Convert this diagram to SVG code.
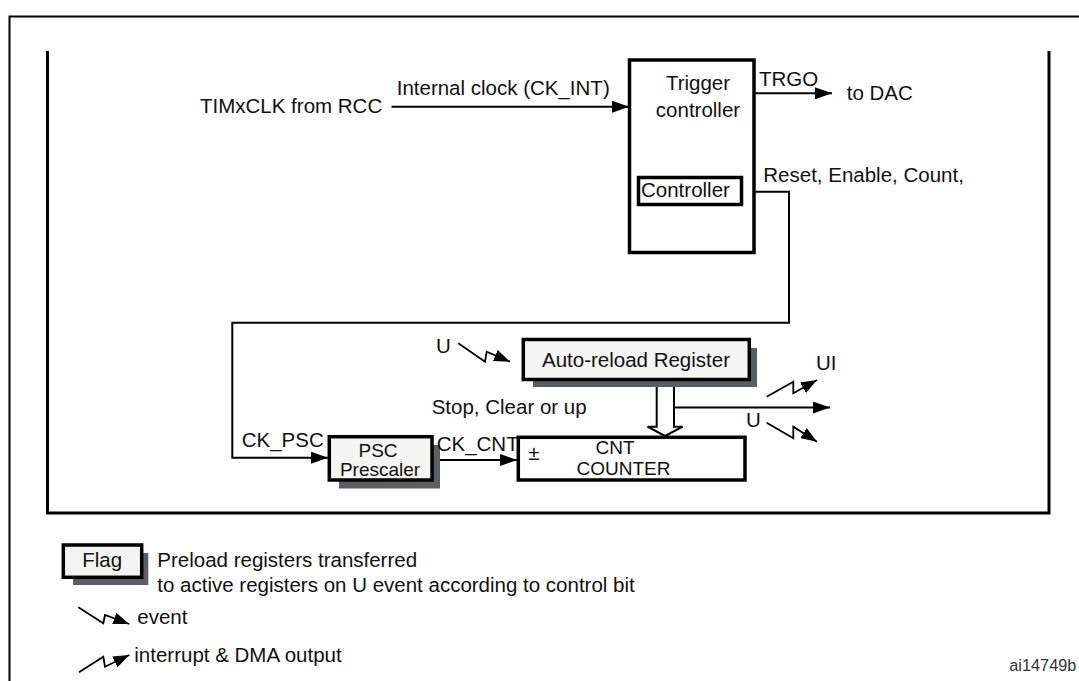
<svg xmlns="http://www.w3.org/2000/svg" width="1079" height="681" viewBox="0 0 1079 681">
<style>
text{font-family:"Liberation Sans",Arial,sans-serif;font-size:20.5px;fill:#111}
.frame{fill:none;stroke:#000;stroke-width:2}
.iframe{fill:none;stroke:#000;stroke-width:3}
.box{fill:#fff;stroke:#000;stroke-width:3.5}
.reg{fill:#f4f4f2;stroke:#000;stroke-width:3.5}
.shadow{fill:#5a5f63}
.wire{fill:none;stroke:#000;stroke-width:2}
.bolt{fill:none;stroke:#000;stroke-width:1.8}
.mid{text-anchor:middle}
.tight{font-size:19px}
</style>
<defs>
<marker id="arr" markerUnits="userSpaceOnUse" markerWidth="17" markerHeight="12" refX="17" refY="6" orient="auto">
<path d="M0,0 L17,6 L0,12 z" fill="#000"/>
</marker>
<marker id="barr" markerUnits="userSpaceOnUse" markerWidth="16" markerHeight="12" refX="16" refY="6" orient="auto">
<path d="M0,0 L16,6 L0,12 z" fill="#000"/>
</marker>
</defs>
<rect width="1079" height="681" fill="#fff"/>
<g id="frames">
<path class="frame" d="M9.5,700 V16.5 H1090"/>
<path class="iframe" d="M47.5,51 V513 H1049 V51"/>
</g>
<g id="connectors">
<path class="wire" d="M391.5,106.7 H629" marker-end="url(#arr)"/>
<path class="wire" d="M754,93.3 H832" marker-end="url(#arr)"/>
<path class="wire" d="M741,191.7 H789 V322.7 H232.3 V457.7 H328" marker-end="url(#arr)"/>
<path class="wire" d="M432,460 H517" marker-end="url(#arr)"/>
<path class="wire" d="M674,407.5 H830" marker-end="url(#arr)"/>
<path d="M656.7,380 V426.7 H647.5 L665,436 L682.7,426.7 H674 V380" fill="#fff" stroke="#000" stroke-width="2"/>
<path class="bolt" d="M766.7,396.7 L793.3,381.7 L793.3,393.3 L817,380" marker-end="url(#barr)"/>
<path class="bolt" d="M766.7,422.7 L793.3,438.3 L793.3,426.7 L817,441.7" marker-end="url(#barr)"/>
<path class="bolt" d="M458.3,343.3 L485,361.7 L486.7,351.7 L510,361.7" marker-end="url(#barr)"/>
</g>
<g id="trigger">
<rect class="box" x="629.5" y="60" width="124.5" height="192.5"/>
<text x="698" y="90" class="mid">Trigger</text>
<text x="698" y="117" class="mid">controller</text>
</g>
<g id="controller">
<rect class="box" x="638.5" y="177.5" width="103" height="27"/>
<text x="641" y="196.5">Controller</text>
</g>
<g id="autoreload">
<rect class="shadow" x="533" y="348" width="224" height="39"/>
<rect class="reg" x="523.3" y="339.5" width="226" height="40"/>
<text x="636" y="366.7" class="mid">Auto-reload Register</text>
</g>
<g id="psc">
<rect class="shadow" x="339" y="445" width="101" height="43.5"/>
<rect class="reg" x="329.3" y="436.7" width="102.7" height="43.3"/>
<text x="378" y="456.5" class="mid tight">PSC</text>
<text x="380" y="476" class="mid tight">Prescaler</text>
</g>
<g id="cnt">
<rect class="box" x="518.3" y="437.3" width="226.7" height="42.7"/>
<text x="528.3" y="460">±</text>
<text x="615" y="454" class="mid tight">CNT</text>
<text x="623.5" y="474.5" class="mid tight">COUNTER</text>
</g>
<g id="labels">
<text x="200" y="113.3">TIMxCLK from RCC</text>
<text x="396.7" y="95">Internal clock (CK_INT)</text>
<text x="759" y="86">TRGO</text>
<text x="846.7" y="100">to DAC</text>
<text x="763.3" y="182.3">Reset, Enable, Count,</text>
<text x="436" y="352.7">U</text>
<text x="816" y="370">UI</text>
<text x="746" y="427.3">U</text>
<text x="431.7" y="414">Stop, Clear or up</text>
<text x="241.7" y="446.7">CK_PSC</text>
<text x="436.7" y="450.5">CK_CNT</text>
</g>
<g id="legend">
<rect class="shadow" x="73" y="553" width="75.3" height="32"/>
<rect class="reg" x="63.3" y="545" width="78.4" height="32.3"/>
<text x="82.3" y="566.7">Flag</text>
<text x="157.3" y="566.7">Preload registers transferred</text>
<text x="157.3" y="591.7">to active registers on U event according to control bit</text>
<path class="bolt" d="M78.3,607.3 L103.3,623.3 L105,615 L129.3,624" marker-end="url(#barr)"/>
<text x="137.3" y="624">event</text>
<path class="bolt" d="M79,672.3 L103.3,656.7 L105,666.7 L129.3,655" marker-end="url(#barr)"/>
<text x="134.3" y="661.7">interrupt &amp; DMA output</text>
<text x="1009.3" y="671" style="font-size:16.3px;fill:#333">ai14749b</text>
</g>
</svg>
